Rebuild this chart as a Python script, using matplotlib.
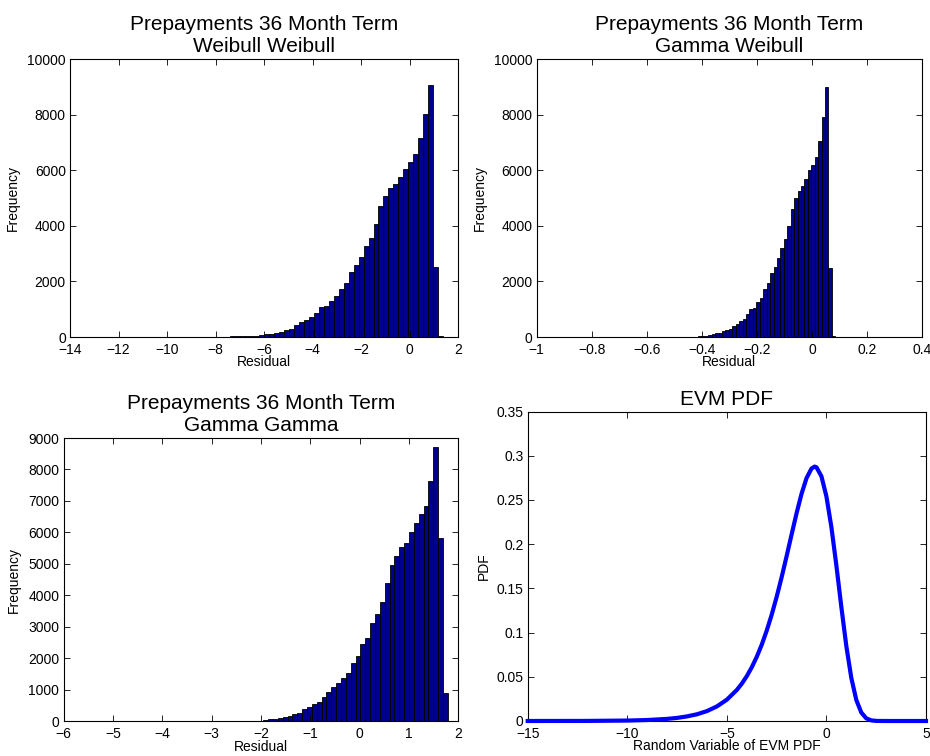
import numpy as np
import matplotlib
matplotlib.use('Agg')
import matplotlib.pyplot as plt
from matplotlib.ticker import FuncFormatter

plt.rcParams['font.family'] = ['Liberation Sans', 'DejaVu Sans']
plt.rcParams['axes.linewidth'] = 0.8

# Weibull Weibull residuals (bin counts, left to right)
ww_range = (-13.55, 1.38)
ww_counts = [2, 0, 0, 1, 0, 0, 1, 0, 1, 1, 0, 1, 1, 1, 2, 1, 2, 2, 3, 3, 4, 5, 5, 6, 7,
             8, 10, 12, 14, 17, 20, 24, 28, 33, 40,
             48, 60, 96, 120, 156, 192, 240, 299, 443, 527, 599, 707, 874, 1078, 1102,
             1305, 1461, 1737, 1940, 2323, 2575, 2886, 3269, 3569, 4048, 4695, 5054,
             5365, 5521, 5749, 6048, 6287, 6575, 7150, 8024, 9066, 2515, 50]

# Gamma Weibull residuals
gw_range = (-0.564, 0.0852)
gw_counts = [1, 1, 2, 2, 3, 4, 5, 6, 8, 10, 13, 17, 24,
             36, 48, 84, 120, 132, 156, 204, 251, 299, 395, 479, 563, 659, 838, 1018,
             1054, 1257, 1413, 1725, 1940, 2299, 2515, 2838, 3210, 3509, 4000, 4611,
             4994, 5269, 5449, 5689, 6012, 6192, 6491, 7066, 7904, 8980, 2491, 30]

# Gamma Gamma residuals
gg_range = (-2.347, 1.79)
gg_counts = [5, 10, 18, 28,
             42, 64, 85, 117, 148, 180, 223, 276, 382, 445, 541, 626, 785, 944, 1082,
             1209, 1368, 1527, 1845, 2089, 2460, 2640, 3128, 3415, 3786, 4380, 4963,
             5260, 5525, 5663, 6002, 6299, 6575, 6850, 7646, 8706, 5822, 891]

# EVM pdf
evm_x = [-15, -12, -10, -9, -8, -7.5, -7, -6.5, -6, -5.5, -5, -4.5, -4.25, -4, -3.75,
         -3.5, -3.25, -3, -2.75, -2.5, -2.25, -2, -1.75, -1.5, -1.25, -1, -0.75, -0.59,
         -0.5, -0.25, 0, 0.25, 0.5, 0.75, 1, 1.25, 1.5, 1.75, 2, 2.25, 2.5, 3, 5]
evm_pdf = [0.00001, 0.0001, 0.0005, 0.0011, 0.0024, 0.0035, 0.0052, 0.0076, 0.0112,
           0.0165, 0.0241, 0.0351, 0.0422, 0.0507, 0.0607, 0.0725, 0.0862, 0.1021,
           0.1201, 0.1403, 0.1625, 0.1863, 0.2108, 0.2349, 0.2569, 0.2746, 0.2855,
           0.2877, 0.2869, 0.2767, 0.2539, 0.2192, 0.1758, 0.1288, 0.0846, 0.0487,
           0.0238, 0.0096, 0.0030, 0.0007, 0.0001, 0.0, 0.0]

W, H = 930, 756
fig = plt.figure(figsize=(W / 100, H / 100), dpi=100)


def px_axes(left, top, right, bottom):
    return fig.add_axes([left / W, 1 - bottom / H, (right - left) / W, (bottom - top) / H])


fmt = FuncFormatter(lambda v, p: ('%g' % round(v, 6)).replace('-', '\u2212')
                    if abs(v) > 1e-9 else '0')


def style(ax):
    ax.tick_params(direction='in', length=4, width=0.6, top=True, right=True,
                   labelsize=10)
    ax.tick_params(axis='x', pad=4)
    ax.tick_params(axis='y', pad=3)
    ax.xaxis.set_major_formatter(fmt)
    ax.yaxis.set_major_formatter(fmt)


def hist(ax, rng, counts):
    edges = np.linspace(rng[0], rng[1], len(counts) + 1)
    ax.bar(edges[:-1], counts, width=edges[1] - edges[0], align='edge',
           color='#00008F', edgecolor='black', linewidth=0.6)


# top left
ax1 = px_axes(70, 59, 458, 337)
hist(ax1, ww_range, ww_counts)
ax1.set_xlim(-14, 2)
ax1.set_ylim(0, 10000)
ax1.set_xticks(np.arange(-14, 3, 2))
ax1.set_yticks(np.arange(0, 10001, 2000))
style(ax1)
ax1.set_title('Prepayments 36 Month Term\nWeibull Weibull', fontsize=15, pad=5)
ax1.set_xlabel('Residual', fontsize=10, labelpad=-1)
ax1.set_ylabel('Frequency', fontsize=10, labelpad=5)

# top right
ax2 = px_axes(536.7, 59, 922, 337)
hist(ax2, gw_range, gw_counts)
ax2.set_xlim(-1, 0.4)
ax2.set_ylim(0, 10000)
ax2.set_xticks(np.round(np.linspace(-1, 0.4, 8), 2))
ax2.set_yticks(np.arange(0, 10001, 2000))
style(ax2)
ax2.set_title('Prepayments 36 Month Term\nGamma Weibull', fontsize=15, pad=5)
ax2.set_xlabel('Residual', fontsize=10, labelpad=-1)
ax2.set_ylabel('Frequency', fontsize=10, labelpad=5)

# bottom left
ax3 = px_axes(63.5, 438, 458.3, 721.4)
hist(ax3, gg_range, gg_counts)
ax3.set_xlim(-6, 2)
ax3.set_ylim(0, 9000)
ax3.set_xticks(np.arange(-6, 3, 1))
ax3.set_yticks(np.arange(0, 9001, 1000))
style(ax3)
ax3.set_title('Prepayments 36 Month Term\nGamma Gamma', fontsize=15, pad=5)
ax3.set_xlabel('Residual', fontsize=10, labelpad=-1)
ax3.set_ylabel('Frequency', fontsize=10, labelpad=5)

# bottom right
ax4 = px_axes(527.7, 411.5, 926, 721)
ax4.plot(evm_x, evm_pdf, color='#0000FF', linewidth=3, clip_on=False, zorder=3)
ax4.set_xlim(-15, 5)
ax4.set_ylim(0, 0.35)
ax4.set_xticks(np.arange(-15, 6, 5))
ax4.set_yticks(np.round(np.linspace(0, 0.35, 8), 2))
style(ax4)
ax4.set_title('EVM PDF', fontsize=15, pad=5)
ax4.set_xlabel('Random Variable of EVM PDF', fontsize=10, labelpad=-1)
ax4.set_ylabel('PDF', fontsize=10, labelpad=4)

fig.savefig('out.png', dpi=100)
